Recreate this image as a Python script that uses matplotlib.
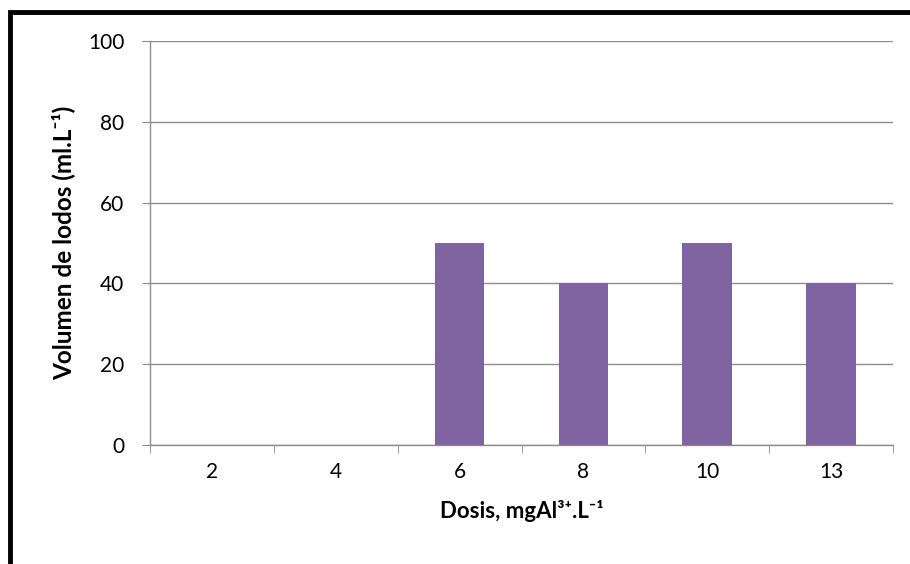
import matplotlib
matplotlib.use("Agg")
import matplotlib.pyplot as plt
from matplotlib.patches import Rectangle
import numpy as np

categories = ["2", "4", "6", "8", "10", "13"]
values = [0, 0, 50, 40, 50, 40]

plt.rcParams['font.family'] = ['Lato', 'DejaVu Sans']

W, H = 910, 564
fig = plt.figure(figsize=(W/100, H/100), dpi=100)
ax = fig.add_axes([150/W, 1-445/H, (893-150)/W, (445-41)/H])

x = np.arange(len(categories))
ax.bar(x, values, width=0.4, color='#8064A2', zorder=3)
ax.set_xlim(-0.5, len(categories)-0.5)
ax.set_ylim(0, 100)
ax.set_yticks(np.arange(0, 101, 20))
ax.yaxis.grid(True, color='#8c8c8c', linewidth=1)
ax.set_axisbelow(True)
ax.set_xticks(x)
ax.set_xticklabels(categories)
ax.set_xticks(np.arange(-0.5, len(categories), 1), minor=True)
ax.tick_params(axis='x', which='major', length=0, pad=12, labelsize=15)
ax.tick_params(axis='x', which='minor', length=5.5, color='#8c8c8c', direction='out')
ax.tick_params(axis='y', length=5.5, color='#8c8c8c', labelsize=15, pad=13)
for s in ['top', 'right']:
    ax.spines[s].set_visible(False)
for s in ['left', 'bottom']:
    ax.spines[s].set_color('#8c8c8c')
    ax.spines[s].set_linewidth(1)

ax.set_xlabel('Dosis, mgAl³⁺.L⁻¹', fontsize=16, fontweight='bold', labelpad=13)
ax.set_ylabel('Volumen de lodos (ml.L⁻¹)', fontsize=17.5, fontweight='bold', labelpad=9)

fig.patches.append(Rectangle((10/W, -0.1), 1.2, 1.1 - 12/H, transform=fig.transFigure,
                             fill=False, edgecolor='black', linewidth=3.5, zorder=10))

fig.savefig('out.png', dpi=100)
